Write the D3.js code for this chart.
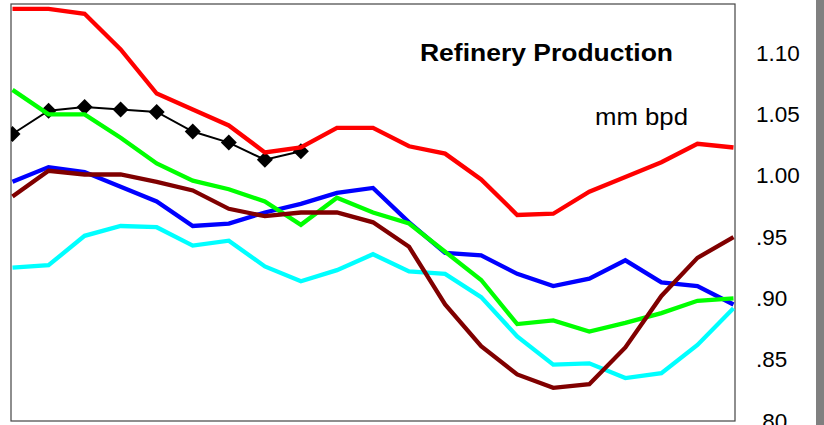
<!DOCTYPE html>
<html>
<head>
<meta charset="utf-8">
<script src="https://cdn.jsdelivr.net/npm/d3@7"></script>
<style>
  html, body { margin: 0; padding: 0; background: #fff; }
  svg { display: block; }
  text { font-family: "Liberation Sans", Arial, sans-serif; }
</style>
</head>
<body>
<div id="chart"></div>
<script>
// ---- data (mm bpd) ----
const periods = d3.range(21); // 21 evenly spaced periods (no x labels shown)

const seriesRed   = [1.136,1.136,1.132,1.103,1.067,1.054,1.041,1.019,1.023,1.039,1.039,1.024,1.018,0.997,0.968,0.969,0.987,0.999,1.011,1.026,1.023];
const seriesBlack = [1.034,1.053,1.056,1.054,1.052,1.036,1.027,1.013,1.020];
const seriesGreen = [1.070,1.050,1.050,1.031,1.010,0.996,0.989,0.979,0.960,0.982,0.970,0.961,0.938,0.915,0.879,0.882,0.873,0.880,0.888,0.898,0.900];
const seriesBlue  = [0.995,1.007,1.003,0.991,0.979,0.959,0.961,0.970,0.977,0.986,0.990,0.962,0.937,0.935,0.920,0.910,0.916,0.931,0.913,0.910,0.895];
const seriesBrown = [0.983,1.004,1.001,1.001,0.995,0.988,0.973,0.967,0.970,0.970,0.962,0.942,0.895,0.861,0.838,0.827,0.830,0.860,0.902,0.933,0.950];
const seriesCyan  = [0.925,0.927,0.951,0.959,0.958,0.943,0.947,0.926,0.914,0.923,0.936,0.922,0.920,0.901,0.869,0.846,0.847,0.835,0.839,0.862,0.892];

const yTicks = [0.80, 0.85, 0.90, 0.95, 1.00, 1.05, 1.10];
const titleText = "Refinery Production";
const unitText = "mm bpd";

// ---- layout ----
const W = 824, H = 425;
const plot = { left: 11, right: 735, top: 4, bottom: 421 };

const svg = d3.select("#chart").append("svg")
  .attr("width", W).attr("height", H);

svg.append("rect").attr("width", W).attr("height", H).attr("fill", "#fff");

// gray strip at far right
svg.append("rect").attr("x", 816).attr("y", 0).attr("width", 8).attr("height", H).attr("fill", "#808080");

const x = d3.scaleLinear().domain([0, 20]).range([12.5, 733.5]);
const y = d3.scaleLinear().domain([0.80, 1.14]).range([plot.bottom, plot.top]);

// plot frame
svg.append("rect")
  .attr("x", plot.left).attr("y", plot.top)
  .attr("width", plot.right - plot.left).attr("height", plot.bottom - plot.top)
  .attr("fill", "none").attr("stroke", "#444").attr("stroke-width", 1.2);

// right axis labels
const fmt = v => v >= 1 ? d3.format(".2f")(v) : d3.format(".2f")(v).replace(/^0/, "");
const axis = d3.axisRight(y).tickValues(yTicks).tickFormat(fmt).tickSize(0).tickPadding(21);
const gAxis = svg.append("g").attr("transform", `translate(${plot.right},0)`).call(axis);
gAxis.select(".domain").remove();
gAxis.selectAll("text")
  .attr("font-size", "22.5px")
  .attr("font-family", "'Liberation Sans', Arial, sans-serif")
  .attr("fill", "#000")
  .attr("text-anchor", "start");

const line = d3.line().x((d, i) => x(periods[i])).y(d => y(d));

const clip = svg.append("clipPath").attr("id", "clip")
  .append("rect").attr("x", plot.left).attr("y", plot.top)
  .attr("width", plot.right - plot.left).attr("height", plot.bottom - plot.top);

const gLines = svg.append("g").attr("clip-path", "url(#clip)");

// black series with diamonds
gLines.append("path").datum(seriesBlack)
  .attr("d", line).attr("fill", "none").attr("stroke", "#000").attr("stroke-width", 2);
gLines.selectAll(".diamond").data(seriesBlack).enter().append("path")
  .attr("class", "diamond")
  .attr("d", d3.symbol().type(d3.symbolSquare).size(128))
  .attr("transform", (d, i) => `translate(${x(periods[i])},${y(d)}) rotate(45)`)
  .attr("fill", "#000");

const colored = [
  { data: seriesBlue,  color: "#0000ff" },
  { data: seriesCyan,  color: "#00ffff" },
  { data: seriesGreen, color: "#00ff00" },
  { data: seriesRed,   color: "#ff0000" },
  { data: seriesBrown, color: "#800000" }
];
colored.forEach(s => {
  gLines.append("path").datum(s.data)
    .attr("d", line).attr("fill", "none")
    .attr("stroke", s.color).attr("stroke-width", 4.3)
    .attr("stroke-linejoin", "miter");
});

// title and unit
svg.append("text").attr("x", 420).attr("y", 61)
  .attr("font-size", "24.5px").attr("font-weight", "bold")
  .attr("textLength", 253).attr("lengthAdjust", "spacingAndGlyphs")
  .text(titleText);
svg.append("text").attr("x", 595).attr("y", 125)
  .attr("font-size", "24px")
  .attr("textLength", 93).attr("lengthAdjust", "spacingAndGlyphs")
  .text(unitText);
</script>
</body>
</html>
